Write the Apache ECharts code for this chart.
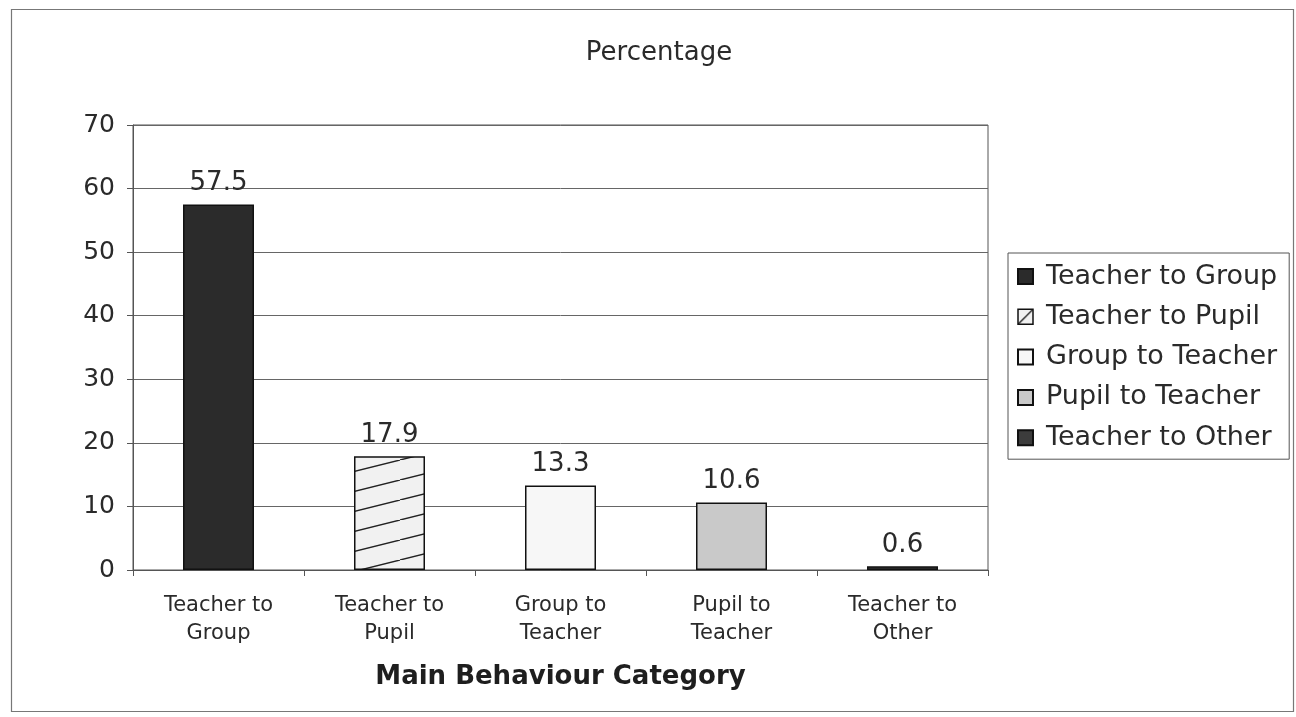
<!DOCTYPE html>
<html>
<head>
<meta charset="utf-8">
<script src="https://cdn.jsdelivr.net/npm/echarts@6/dist/echarts.min.js"></script>
<style>
  html, body { margin: 0; padding: 0; background: #fff; }
  #chart { width: 1296px; height: 717px; }
</style>
</head>
<body>
<div id="chart"></div>
<script>
// Behaviour categories and their share (%)
const categories = ['Teacher to Group', 'Teacher to Pupil', 'Group to Teacher', 'Pupil to Teacher', 'Teacher to Other'];
const axisLabels = ['Teacher to\nGroup', 'Teacher to\nPupil', 'Group to\nTeacher', 'Pupil to\nTeacher', 'Teacher to\nOther'];
const percentages = [57.5, 17.9, 13.3, 10.6, 0.6];
const yTicks = { min: 0, max: 70, interval: 10 };

const FONT = 'DejaVu Sans';

// Diagonal hatch tile: w x h cell with one rising stroke
function hatchPattern(w, h) {
  const c = document.createElement('canvas');
  c.width = w; c.height = h;
  const g = c.getContext('2d');
  g.fillStyle = '#f1f1f1';
  g.fillRect(0, 0, w, h);
  g.strokeStyle = '#222';
  g.lineWidth = 1.4;
  g.beginPath();
  g.moveTo(0, h); g.lineTo(w, 0);
  g.moveTo(-w, h); g.lineTo(0, 0);
  g.moveTo(w, h); g.lineTo(2 * w, 0);
  g.stroke();
  return c;
}

const fills = [
  '#2b2b2b',
  { image: hatchPattern(80, 20), repeat: 'repeat' },
  '#f7f7f7',
  '#c9c9c9',
  '#3c3c3c'
];

const series = categories.map((name, i) => ({
  name: name,
  type: 'bar',
  stack: 'all',
  barWidth: 71,
  data: percentages.map((v, j) => (j === i ? v : null)),
  itemStyle: { color: fills[i], borderColor: '#111', borderWidth: 1.5 },
  label: {
    show: true,
    position: 'top',
    distance: 8,
    formatter: p => p.value.toFixed(1),
    fontFamily: FONT,
    fontSize: 26,
    color: '#2a2a2a'
  }
}));

// Legend entries; the hatched one gets a smaller tile so the stroke shows in the icon
const legendData = categories.map((name, i) => (
  i === 1
    ? { name: name, itemStyle: { color: { image: hatchPattern(15, 15), repeat: 'repeat' }, borderColor: '#111', borderWidth: 1.5 } }
    : { name: name }
));

const chart = echarts.init(document.getElementById('chart'), null, { renderer: 'canvas' });
chart.setOption({
  backgroundColor: '#fff',
  animation: false,
  title: {
    text: 'Percentage',
    left: 654,
    top: 35,
    textAlign: 'center',
    textStyle: { fontFamily: FONT, fontSize: 26, fontWeight: 'normal', color: '#2a2a2a' }
  },
  legend: {
    orient: 'vertical',
    left: 1008,
    top: 253,
    padding: [10, 12, 8, 9],
    icon: 'rect',
    itemWidth: 15,
    itemHeight: 15,
    itemGap: 13.3,
    borderColor: '#555',
    borderWidth: 1,
    data: legendData,
    textStyle: { fontFamily: FONT, fontSize: 27, lineHeight: 27, color: '#2a2a2a', padding: [0, 0, 0, 8] }
  },
  grid: { left: 133, top: 125, right: 308, bottom: 147, show: true, borderColor: '#555', borderWidth: 1 },
  xAxis: {
    type: 'category',
    data: axisLabels,
    name: 'Main Behaviour Category',
    nameLocation: 'middle',
    nameGap: 94,
    nameTextStyle: { fontFamily: FONT, fontSize: 26, fontWeight: 'bold', color: '#1e1e1e' },
    axisLine: { lineStyle: { color: '#555', width: 1 } },
    axisTick: { show: true, alignWithLabel: false, length: 6, lineStyle: { color: '#555' } },
    axisLabel: { fontFamily: FONT, fontSize: 21, color: '#2a2a2a', lineHeight: 28, margin: 22 }
  },
  yAxis: {
    type: 'value',
    min: yTicks.min,
    max: yTicks.max,
    interval: yTicks.interval,
    axisLine: { show: true, lineStyle: { color: '#555', width: 1 } },
    axisTick: { show: true, length: 6, lineStyle: { color: '#555' } },
    axisLabel: { fontFamily: FONT, fontSize: 25, color: '#2a2a2a', margin: 18 },
    splitLine: { lineStyle: { color: '#666', width: 1 } }
  },
  graphic: [{
    type: 'rect',
    shape: { x: 11.5, y: 9.5, width: 1282, height: 702 },
    style: { fill: 'none', stroke: '#777', lineWidth: 1.2 },
    silent: true
  }],
  series: series
});
</script>
</body>
</html>
